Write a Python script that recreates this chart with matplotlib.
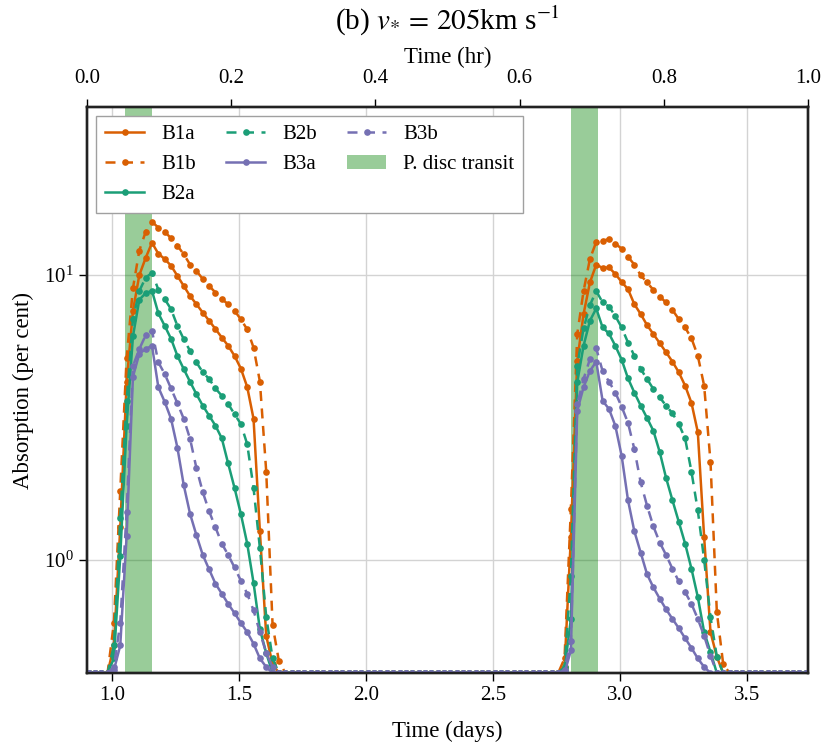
import numpy as np
import matplotlib
matplotlib.use('Agg')
import matplotlib.pyplot as plt
from matplotlib.ticker import NullLocator, FormatStrFormatter

# ---------------- data ----------------
# time sampling (days)
days = np.round(0.906 + 0.025 * np.arange(115), 3)
FLOOR = 0.4                      # absorption floor (per cent) outside transits
PEAK1_START = 4                  # index of t = 1.006 d
PEAK2_START = 75                 # index of t = 2.781 d

b1a_p1 = [0.5, 1.3, 4.2, 7.5, 10.0, 11.5, 13.0, 11.9, 11.4, 10.8, 9.95, 9.17, 8.45, 7.91,
          7.39, 6.92, 6.47, 6.04, 5.65, 5.21, 4.7, 4.05, 3.13, 1.26, 0.54, 0.43, 0.4]
b1b_p1 = [0.6, 1.75, 5.1, 9.0, 12.2, 14.2, 15.4, 14.7, 14.2, 13.5, 12.7, 11.85, 10.9, 10.35,
          9.7, 9.17, 8.69, 8.24, 7.91, 7.5, 7.0, 6.45, 5.57, 4.23, 2.04, 0.59, 0.44]
b2a_p1 = [0.45, 1.03, 2.96, 6.1, 8.2, 8.65, 8.81, 7.35, 6.64, 5.98, 5.21, 4.68, 4.22, 3.82,
          3.48, 3.21, 2.96, 2.67, 2.18, 1.79, 1.45, 1.14, 0.83, 0.57, 0.47, 0.4, 0.4]
b2b_p1 = [0.5, 1.4, 3.62, 7.0, 8.8, 9.8, 10.2, 8.9, 8.24, 7.6, 6.64, 5.96, 5.42, 4.94,
          4.56, 4.32, 4.0, 3.77, 3.53, 3.25, 3.0, 2.55, 1.79, 1.10, 0.63, 0.45, 0.4]
b3a_p1 = [0.41, 0.5, 1.21, 4.4, 5.3, 5.5, 5.65, 4.04, 3.59, 3.13, 2.48, 1.83, 1.45, 1.22,
          1.04, 0.925, 0.824, 0.76, 0.70, 0.65, 0.60, 0.557, 0.507, 0.45, 0.42, 0.4, 0.4]
b3b_p1 = [0.42, 0.6, 1.47, 4.8, 5.5, 6.15, 6.38, 4.94, 4.5, 4.0, 3.55, 3.13, 2.66, 2.1,
          1.73, 1.48, 1.30, 1.14, 1.04, 0.94, 0.845, 0.76, 0.664, 0.557, 0.47, 0.42, 0.4]

b1a_p2 = [0.42, 1.2, 5.0, 7.3, 9.43, 10.9, 10.6, 10.65, 10.1, 9.47, 8.93, 7.91, 7.3, 6.68,
          6.21, 5.77, 5.36, 4.97, 4.56, 4.09, 3.56, 2.81, 1.2, 0.557, 0.456, 0.4]
b1b_p2 = [0.45, 1.51, 6.2, 8.8, 11.4, 13.1, 13.2, 13.4, 12.9, 12.4, 11.6, 10.9, 10.0, 9.43,
          8.88, 8.41, 8.02, 7.55, 7.01, 6.55, 6.0, 5.21, 4.09, 2.21, 0.655, 0.43]
b2a_p2 = [0.41, 0.62, 4.2, 5.65, 6.92, 7.64, 6.55, 6.24, 5.65, 5.05, 4.34, 3.87, 3.48, 3.15,
          2.84, 2.39, 1.94, 1.62, 1.36, 1.14, 0.93, 0.74, 0.557, 0.474, 0.4, 0.4]
b2b_p2 = [0.42, 0.88, 4.8, 6.5, 7.85, 8.8, 8.02, 7.76, 7.19, 6.55, 5.8, 5.21, 4.68, 4.32,
          3.98, 3.72, 3.48, 3.27, 3.0, 2.67, 2.04, 1.49, 1.0, 0.63, 0.456, 0.4]
b3a_p2 = [0.4, 0.48, 3.34, 4.04, 4.61, 4.97, 3.62, 3.39, 2.96, 2.32, 1.62, 1.26, 1.06, 0.89,
          0.80, 0.73, 0.67, 0.62, 0.575, 0.53, 0.49, 0.45, 0.42, 0.4, 0.4, 0.4]
b3b_p2 = [0.41, 0.52, 3.52, 4.32, 5.07, 5.53, 4.6, 4.23, 3.87, 3.45, 3.03, 2.45, 1.87, 1.55,
          1.31, 1.15, 1.04, 0.93, 0.84, 0.77, 0.70, 0.62, 0.54, 0.46, 0.4, 0.4]

series_names = ['B1a', 'B1b', 'B2a', 'B2b', 'B3a', 'B3b']
peaks1 = [b1a_p1, b1b_p1, b2a_p1, b2b_p1, b3a_p1, b3b_p1]
peaks2 = [b1a_p2, b1b_p2, b2a_p2, b2b_p2, b3a_p2, b3b_p2]

transit_starts = [1.051, 2.806]
transit_ends = [1.156, 2.911]

hr_ticks = [0.0, 0.2, 0.4, 0.6, 0.8, 1.0]
day_ticks = [1.0, 1.5, 2.0, 2.5, 3.0, 3.5]

# ---------------- style ----------------
plt.rcParams['font.family'] = ['Liberation Serif', 'DejaVu Serif']
plt.rcParams['mathtext.fontset'] = 'stix'

colors = {'B1': '#d95f02', 'B2': '#1b9e77', 'B3': '#7570b3'}


def assemble(p1, p2):
    y = np.full(len(days), FLOOR)
    y[PEAK1_START:PEAK1_START + len(p1)] = p1
    y[PEAK2_START:PEAK2_START + len(p2)] = p2
    return y


fig = plt.figure(figsize=(8.31, 7.54), dpi=100)
ax = fig.add_axes([0.1047, 0.1074, 0.8676, 0.7507])

for s, e in zip(transit_starts, transit_ends):
    ax.axvspan(s, e, color='green', alpha=0.4, lw=0, zorder=1)

for name, p1, p2 in zip(series_names, peaks1, peaks2):
    y = assemble(p1, p2)
    c = colors[name[:2]]
    kw = dict(color=c, lw=1.8, marker='o', ms=4.8, mew=0, label=name, zorder=3)
    if name.endswith('b'):
        ax.plot(days, y, ls='--', dashes=(4, 3), **kw)
    else:
        ax.plot(days, y, ls='-', **kw)

# legend patch label
ax.axvspan(np.nan, np.nan, color='green', alpha=0.4, lw=0, label='P. disc transit')

ax.set_yscale('log')
ax.set_ylim(0.4, 39)
ax.set_xlim(0.90, 3.74)
ax.set_yticks([1, 10])
ax.yaxis.set_minor_locator(NullLocator())
ax.set_xticks(day_ticks)
ax.xaxis.set_major_formatter(FormatStrFormatter('%.1f'))
ax.grid(True, color='#d3d3d3', lw=1.0)
ax.set_axisbelow(True)
ax.tick_params(direction='out', length=6, width=1, labelsize=15, pad=3.5,
               top=False, right=False)
for sp in ax.spines.values():
    sp.set_linewidth(1.7)
    sp.set_color('#222222')
ax.set_xlabel('Time (days)', fontsize=16.5, labelpad=11)
ax.set_ylabel('Absorption (per cent)', fontsize=16.5, labelpad=7)

leg = ax.legend(ncol=3, loc='upper left', fontsize=15, numpoints=1, fancybox=False,
                framealpha=1, edgecolor='#a0a0a0', handlelength=1.9, columnspacing=1.45,
                borderaxespad=0.45)
leg.get_frame().set_linewidth(1.0)

ax2 = ax.twiny()
ax2.set_xlim(0, 1)
ax2.set_xticks(hr_ticks)
ax2.xaxis.set_major_formatter(FormatStrFormatter('%.1f'))
ax2.tick_params(direction='out', length=6, width=1, labelsize=15, pad=8)
ax2.set_xlabel('Time (hr)', fontsize=16.5, labelpad=4)
for sp in ax2.spines.values():
    sp.set_linewidth(1.7)
    sp.set_color('#222222')

fig.text(0.5385, 0.972, r'(b) $v_{*}\,=\,205$km s$^{-1}$', ha='center', va='center',
         fontsize=21)

fig.savefig('out.png', dpi=100)
